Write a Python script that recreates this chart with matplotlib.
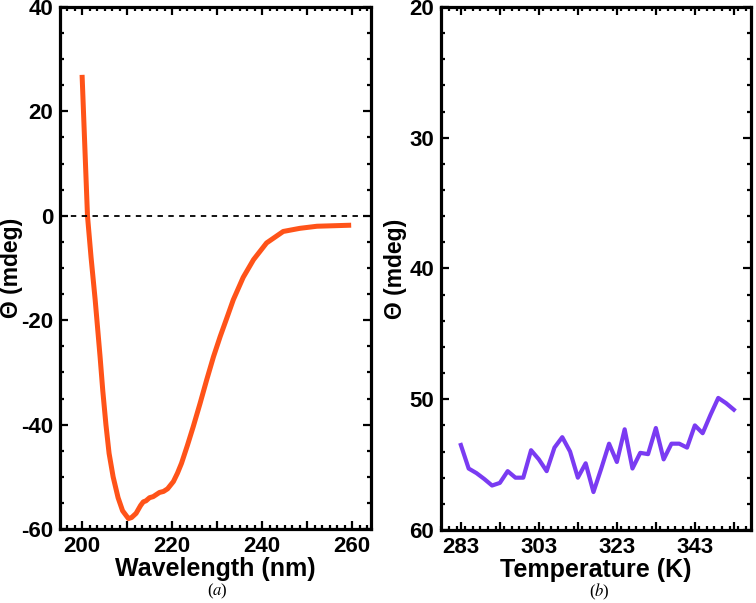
import matplotlib
matplotlib.use("Agg")
import matplotlib.pyplot as plt
from matplotlib.ticker import FixedLocator, MultipleLocator, FuncFormatter

plt.rcParams['font.family'] = ['Liberation Sans', 'DejaVu Sans']
plt.rcParams['mathtext.fontset'] = 'stix'
plt.rcParams['axes.unicode_minus'] = False

# Panel (a): CD spectrum
wavelength = [200.0, 201.2, 202.0, 202.9, 203.3, 204.0, 204.6, 205.3, 206.0, 206.9, 208.0, 209.0,
              210.3, 211.0, 212.0, 213.0, 213.6, 214.2, 215.0, 215.8, 216.5, 217.2, 218.1, 219.0,
              220.3, 221.2, 222.1, 223.4, 224.7, 226.2, 227.7, 229.2, 230.7, 232.2, 233.6, 235.8,
              238.1, 241.0, 244.7, 248.4, 252.2, 256.0, 259.8]
theta_a = [27.0, 0.0, -8.0, -16.0, -20.0, -27.0, -33.5, -40.0, -45.5, -50.0, -54.0, -56.5,
           -58.0, -57.8, -57.0, -55.5, -54.8, -54.6, -54.0, -53.8, -53.4, -53.0, -52.8, -52.3,
           -50.9, -49.3, -47.4, -44.0, -40.4, -36.0, -31.4, -27.0, -23.1, -19.5, -16.1, -11.8,
           -8.4, -5.2, -3.0, -2.4, -2.0, -1.9, -1.8]

# Panel (b): thermal melt
temperature = [283, 285, 287, 289, 291, 293, 295, 297, 299, 301, 303, 305, 307, 309, 311, 313,
               315, 317, 319, 321, 323, 325, 327, 329, 331, 333, 335, 337, 339, 341, 343, 345,
               347, 349, 351, 353]
theta_b = [53.5, 55.3, 55.65, 56.1, 56.6, 56.4, 55.5, 56.0, 56.0, 53.9, 54.6, 55.5, 53.7, 52.9,
           54.0, 56.0, 54.9, 57.1, 55.3, 53.4, 54.8, 52.3, 55.3, 54.1, 54.2, 52.2, 54.6, 53.4,
           53.4, 53.7, 52.0, 52.6, 51.2, 49.9, 50.3, 50.8]

fig = plt.figure(figsize=(7.56, 6.03), dpi=100)
ax1 = fig.add_axes([0.0794, 0.1227, 0.4113, 0.8657])
ax2 = fig.add_axes([0.5833, 0.1211, 0.4101, 0.8673])

label_font = dict(fontsize=18, fontweight='bold')
ylabel_font = dict(fontsize=16.5, fontweight='bold')


def style(ax):
    for s in ax.spines.values():
        s.set_linewidth(2.3)
    ax.tick_params(which='both', direction='in', top=True, right=True, width=1.6)
    ax.tick_params(which='major', length=5.5, labelsize=16, pad=5)
    ax.tick_params(which='minor', length=3)
    for lab in ax.get_xticklabels() + ax.get_yticklabels():
        lab.set_fontweight('bold')


# Panel (a)
ax1.plot(wavelength, theta_a, color='#FF5319', lw=3.6, solid_capstyle='butt')
ax1.axhline(0, color='black', lw=1.3, ls=(0, (3, 3)))
ax1.set_xlim(195.1, 264.2)
ax1.set_ylim(-60, 40)
ax1.xaxis.set_major_locator(MultipleLocator(10))
ax1.xaxis.set_minor_locator(MultipleLocator(10 / 6))
ax1.xaxis.set_major_formatter(FuncFormatter(lambda v, p: f"{v:.0f}" if round(v) % 20 == 0 else ""))
ax1.yaxis.set_major_locator(MultipleLocator(20))
ax1.yaxis.set_minor_locator(MultipleLocator(5))
ax1.set_xlabel('Wavelength (nm)', labelpad=0, **label_font)
ax1.set_ylabel('Θ (mdeg)', va='center', **ylabel_font)
ax1.yaxis.set_label_coords(-0.155, 0.5)
style(ax1)

# Panel (b)
ax2.plot(temperature, theta_b, color='#7A3BF2', lw=3.0)
ax2.set_xlim(277.9, 357.4)
ax2.set_ylim(60, 20)
ax2.xaxis.set_major_locator(FixedLocator([283, 293, 303, 313, 323, 333, 343, 353]))
ax2.xaxis.set_minor_locator(MultipleLocator(2))
ax2.xaxis.set_major_formatter(FuncFormatter(lambda v, p: f"{v:.0f}" if int(round(v)) in (283, 303, 323, 343) else ""))
ax2.yaxis.set_major_locator(MultipleLocator(10))
ax2.yaxis.set_minor_locator(MultipleLocator(2))
ax2.set_xlabel('Temperature (K)', labelpad=0, **label_font)
ax2.set_ylabel('Θ (mdeg)', va='center', **ylabel_font)
ax2.yaxis.set_label_coords(-0.148, 0.5)
style(ax2)

fig.text(0.288, 0.019, r'($\mathit{a}$)', ha='center', va='center', fontsize=12, family='Liberation Serif')
fig.text(0.793, 0.019, r'($\mathit{b}$)', ha='center', va='center', fontsize=12, family='Liberation Serif')

fig.savefig('out.png', dpi=100)
